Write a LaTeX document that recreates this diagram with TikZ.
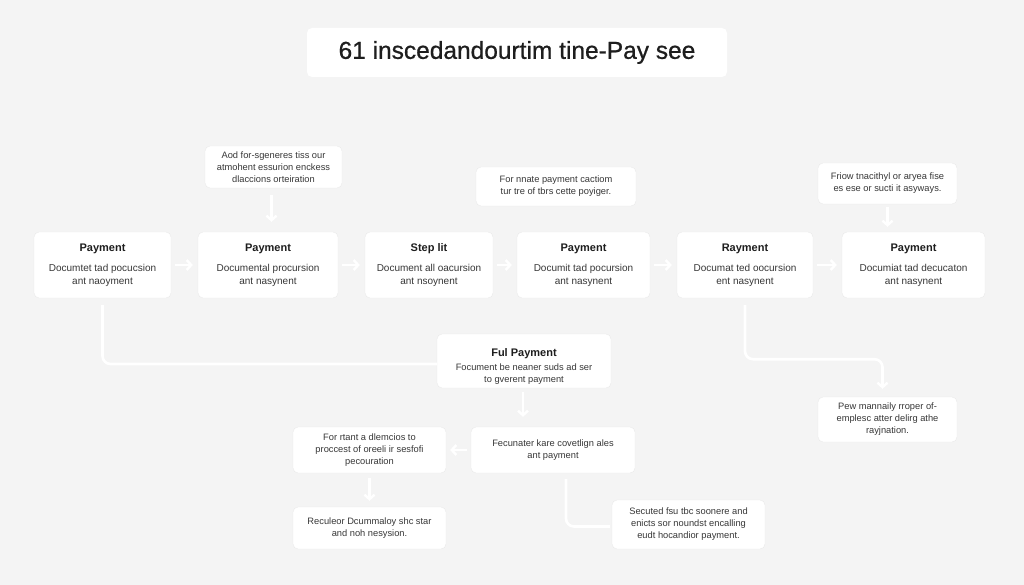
\documentclass[tikz,border=0pt]{standalone}
\usepackage{fontspec}
\setmainfont{Liberation Sans}
\newfontfamily\titlefont[FakeBold=0.7]{Liberation Sans}
\usetikzlibrary{arrows.meta,calc}
\definecolor{bg}{RGB}{244,244,244}
\definecolor{ttl}{RGB}{30,30,30}
\definecolor{bdy}{RGB}{55,55,55}
\definecolor{edge}{RGB}{234,234,234}
\newcommand{\hd}[1]{{\bfseries\fontsize{11}{13}\selectfont\color{ttl}#1}}
\begin{document}
\begin{tikzpicture}[x=1pt,y=-1pt,
  card/.style={fill=white, draw=edge, line width=0.4pt, rounded corners=5pt, inner sep=0pt, align=center, text=bdy},
  main/.style={card, font=\fontsize{10}{13}\selectfont},
  note/.style={card, font=\fontsize{9.3}{12}\selectfont},
  arr/.style={draw=white, line width=2.6pt, -{Straight Barb[length=4.5pt,width=10pt,line width=2.4pt]}},
  link/.style={draw=white, line width=2.6pt, rounded corners=8pt}
]
\fill[bg] (0,0) rectangle (1024,585);
\useasboundingbox (0,0) rectangle (1024,585);

% title
\node[card, draw=none, minimum width=420pt, minimum height=49pt, text=ttl, font=\titlefont\fontsize{24.5}{28}\selectfont] (title) at (517,52.5) {61 inscedandourtim tine-Pay see};

% main row
\node[main, minimum width=137pt, minimum height=66pt] (b1) at (102.5,265) {\hd{Payment}\\[7pt]Documtet tad pocucsion\\ant naoyment};
\node[main, minimum width=140pt, minimum height=66pt] (b2) at (268,265) {\hd{Payment}\\[7pt]Documental procursion\\ant nasynent};
\node[main, minimum width=128pt, minimum height=66pt] (b3) at (429,265) {\hd{Step lit}\\[7pt]Document all oacursion\\ant nsoynent};
\node[main, minimum width=133pt, minimum height=66pt] (b4) at (583.5,265) {\hd{Payment}\\[7pt]Documit tad pocursion\\ant nasynent};
\node[main, minimum width=136pt, minimum height=66pt] (b5) at (745,265) {\hd{Rayment}\\[7pt]Documat ted oocursion\\ent nasynent};
\node[main, minimum width=143pt, minimum height=66pt] (b6) at (913.5,265) {\hd{Payment}\\[7pt]Documiat tad decucaton\\ant nasynent};

% top notes
\node[note, minimum width=137pt, minimum height=42pt] (a1) at (273.5,167) {Aod for-sgeneres tiss our\\atmohent essurion enckess\\dlaccions orteiration};
\node[note, minimum width=160pt, minimum height=39pt] (a2) at (556,186.5) {For nnate payment cactiom\\tur tre of tbrs cette poyiger.};
\node[note, minimum width=139pt, minimum height=41pt] (a3) at (887.5,183.5) {Friow tnacithyl or aryea fise\\es ese or sucti it asyways.};

% lower boxes
\node[note, minimum width=174pt, minimum height=54pt] (ful) at (524,361) {\rule{0pt}{18pt}\hd{Ful Payment}\\[2pt]Focument be neaner suds ad ser\\to gverent payment};
\node[note, minimum width=164pt, minimum height=46pt] (fec) at (553,450) {Fecunater kare covetlign ales\\ant payment};
\node[note, minimum width=153pt, minimum height=46pt] (lft) at (369.5,450) {For rtant a dlemcios to\\proccest of oreeli ir sesfofi\\pecouration};
\node[note, minimum width=153pt, minimum height=42pt] (rec) at (369.5,528) {Reculeor Dcummaloy shc star\\and noh nesysion.};
\node[note, minimum width=153pt, minimum height=49pt] (sec) at (688.5,524.5) {Secuted fsu tbc soonere and\\enicts sor noundst encalling\\eudt hocandior payment.};
\node[note, minimum width=139pt, minimum height=45pt] (pew) at (887.5,419.5) {Pew mannaily rroper of-\\emplesc atter delirg athe\\rayjnation.};

% connectors in the row
\foreach \s/\t in {b1/b2,b2/b3,b3/b4,b4/b5,b5/b6}
  \draw[arr, shorten <=4pt, shorten >=5pt] (\s.east) -- (\t.west);

% notes into row
\draw[arr, shorten <=7pt, shorten >=10pt] ([xshift=-2pt]a1.south) -- ([xshift=-2pt]a1.south |- b2.north);
\draw[arr, shorten <=3pt, shorten >=5pt] (a3.south) -- (a3.south |- b6.north);

% b1 down to Ful Payment
\draw[link, shorten <=7pt] (b1.south) |- ([yshift=-3pt]ful.west);

% b5 down and right to pew
\coordinate (turn) at ($(b5.south)+(0,61)$);
\draw[arr, rounded corners=8pt, shorten <=7pt, shorten >=8pt] (b5.south) -- (turn) -| ([xshift=-5pt]pew.north);

% Ful Payment down to fec
\draw[arr, shorten <=4pt, shorten >=10pt] ([xshift=-1pt]ful.south) -- ([xshift=-1pt]ful.south |- fec.north);

% fec left to lft
\draw[arr, shorten <=4pt, shorten >=4pt] (fec.west) -- (lft.east);

% lft down to rec
\draw[arr, shorten <=5pt, shorten >=6pt] (lft.south) -- (lft.south |- rec.north);

% fec down to sec
\draw[link, shorten <=6pt, shorten >=2pt] ([xshift=13pt]fec.south) |- ([yshift=-2pt]sec.west);
\end{tikzpicture}
\end{document}
